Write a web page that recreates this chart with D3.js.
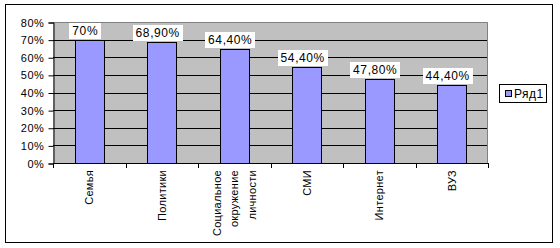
<!DOCTYPE html>
<html>
<head>
<meta charset="utf-8">
<script src="https://cdn.jsdelivr.net/npm/d3@7"></script>
<style>
  body { margin: 0; background: #fff; }
  svg text { font-family: "Liberation Sans", Arial, sans-serif; font-size: 11px; fill: #000; }
</style>
</head>
<body>
<div id="chart"></div>
<script>
// data
const categories = ['Семья', 'Политики', 'Социальное окружение личности', 'СМИ', 'Интернет', 'ВУЗ'];
const values = [0.70, 0.689, 0.644, 0.544, 0.478, 0.444];
const valueLabels = ['70%', '68,90%', '64,40%', '54,40%', '47,80%', '44,40%'];
const yTicks = [0, 0.1, 0.2, 0.3, 0.4, 0.5, 0.6, 0.7, 0.8];
const seriesName = 'Ряд1';

const W = 560, H = 248;
const plot = { left: 53, right: 488, top: 22, bottom: 163 };

const svg = d3.select('#chart').append('svg')
  .attr('width', W)
  .attr('height', H);

// outer frame
svg.append('rect')
  .attr('x', 5.5).attr('y', 4.5)
  .attr('width', 547).attr('height', 238)
  .attr('fill', '#fff')
  .attr('stroke', '#000');

// scales
const x = d3.scaleBand()
  .domain(categories)
  .range([plot.left, plot.right])
  .paddingInner(0.6)
  .paddingOuter(0.3);

const y = d3.scaleLinear()
  .domain([0, 0.8])
  .range([plot.bottom, plot.top]);

// plot background
svg.append('rect')
  .attr('x', plot.left).attr('y', plot.top)
  .attr('width', plot.right - plot.left)
  .attr('height', plot.bottom - plot.top)
  .attr('fill', '#c0c0c0');

// gridlines
svg.append('g')
  .selectAll('line')
  .data(yTicks.filter(d => d > 0 && d < 0.8))
  .enter().append('line')
    .attr('x1', plot.left).attr('x2', plot.right)
    .attr('y1', d => Math.round(y(d)) + 0.5)
    .attr('y2', d => Math.round(y(d)) + 0.5)
    .attr('stroke', '#000');

// plot border top/right (gray)
svg.append('path')
  .attr('d', `M${plot.left},${plot.top + 0.5}H${plot.right - 0.5}V${plot.bottom}`)
  .attr('fill', 'none')
  .attr('stroke', '#808080');

// bars
svg.append('g')
  .selectAll('rect')
  .data(values)
  .enter().append('rect')
    .attr('x', (d, i) => Math.round(x(categories[i])) + 0.5)
    .attr('y', d => Math.round(y(d)) + 0.5)
    .attr('width', Math.round(x.bandwidth()))
    .attr('height', d => Math.round(y(0)) - Math.round(y(d)))
    .attr('fill', '#9999ff')
    .attr('stroke', '#000');

// y axis
const yAxis = svg.append('g')
  .attr('transform', `translate(${plot.left + 0.5},0.5)`)
  .call(d3.axisLeft(y).tickValues(yTicks).tickFormat(d3.format('.0%')).tickSize(5).tickPadding(4));
yAxis.select('.domain').attr('stroke', '#000');
yAxis.selectAll('.tick line').attr('stroke', '#000');
yAxis.selectAll('.tick text')
  .style('font-size', '11px')
  .style('letter-spacing', '0.6px')
  .attr('font-family', null);

// x axis line + ticks at category boundaries
const step = x.step();
const x0 = plot.left;
svg.append('line')
  .attr('x1', plot.left).attr('x2', plot.right + 0.5)
  .attr('y1', plot.bottom + 0.5).attr('y2', plot.bottom + 0.5)
  .attr('stroke', '#000');
svg.append('g')
  .selectAll('line')
  .data(d3.range(categories.length + 1))
  .enter().append('line')
    .attr('x1', i => Math.round(x0 + i * step) + 0.5)
    .attr('x2', i => Math.round(x0 + i * step) + 0.5)
    .attr('y1', plot.bottom)
    .attr('y2', plot.bottom + 5)
    .attr('stroke', '#000');

// category labels (rotated, wrapped)
const catG = svg.append('g');
categories.forEach(c => {
  const lines = c.split(' ');
  const cx = x(c) + x.bandwidth() / 2;
  lines.forEach((ln, j) => {
    const lx = cx + 4 + (j - (lines.length - 1) / 2) * 17.5;
    catG.append('text')
      .attr('transform', `translate(${lx},170) rotate(-90)`)
      .attr('text-anchor', 'end')
      .style('letter-spacing', '0.3px')
      .text(ln);
  });
});

// data labels
const lab = svg.append('g');
values.forEach((v, i) => {
  const cx = x(categories[i]) + x.bandwidth() / 2 - 4;
  const by = Math.round(y(v)) - 1;
  const t = lab.append('text')
    .attr('x', cx)
    .attr('y', by - 4)
    .attr('text-anchor', 'middle')
    .style('font-size', '12px')
    .style('letter-spacing', '0.6px')
    .text(valueLabels[i]);
  const w = t.node().getComputedTextLength() + 6;
  lab.insert('rect', () => t.node())
    .attr('x', Math.round(cx - w / 2))
    .attr('y', by - 16)
    .attr('width', Math.round(w))
    .attr('height', 16)
    .attr('fill', '#fff');
});

// legend
const leg = svg.append('g');
leg.append('rect')
  .attr('x', 499.5).attr('y', 84.5)
  .attr('width', 47).attr('height', 18)
  .attr('fill', '#fff').attr('stroke', '#000');
leg.append('rect')
  .attr('x', 505.5).attr('y', 90.5)
  .attr('width', 6).attr('height', 6)
  .attr('fill', '#9999ff').attr('stroke', '#000');
leg.append('text')
  .attr('x', 514).attr('y', 98)
  .style('font-size', '12px')
  .style('letter-spacing', '0.5px')
  .text(seriesName);
</script>
</body>
</html>
